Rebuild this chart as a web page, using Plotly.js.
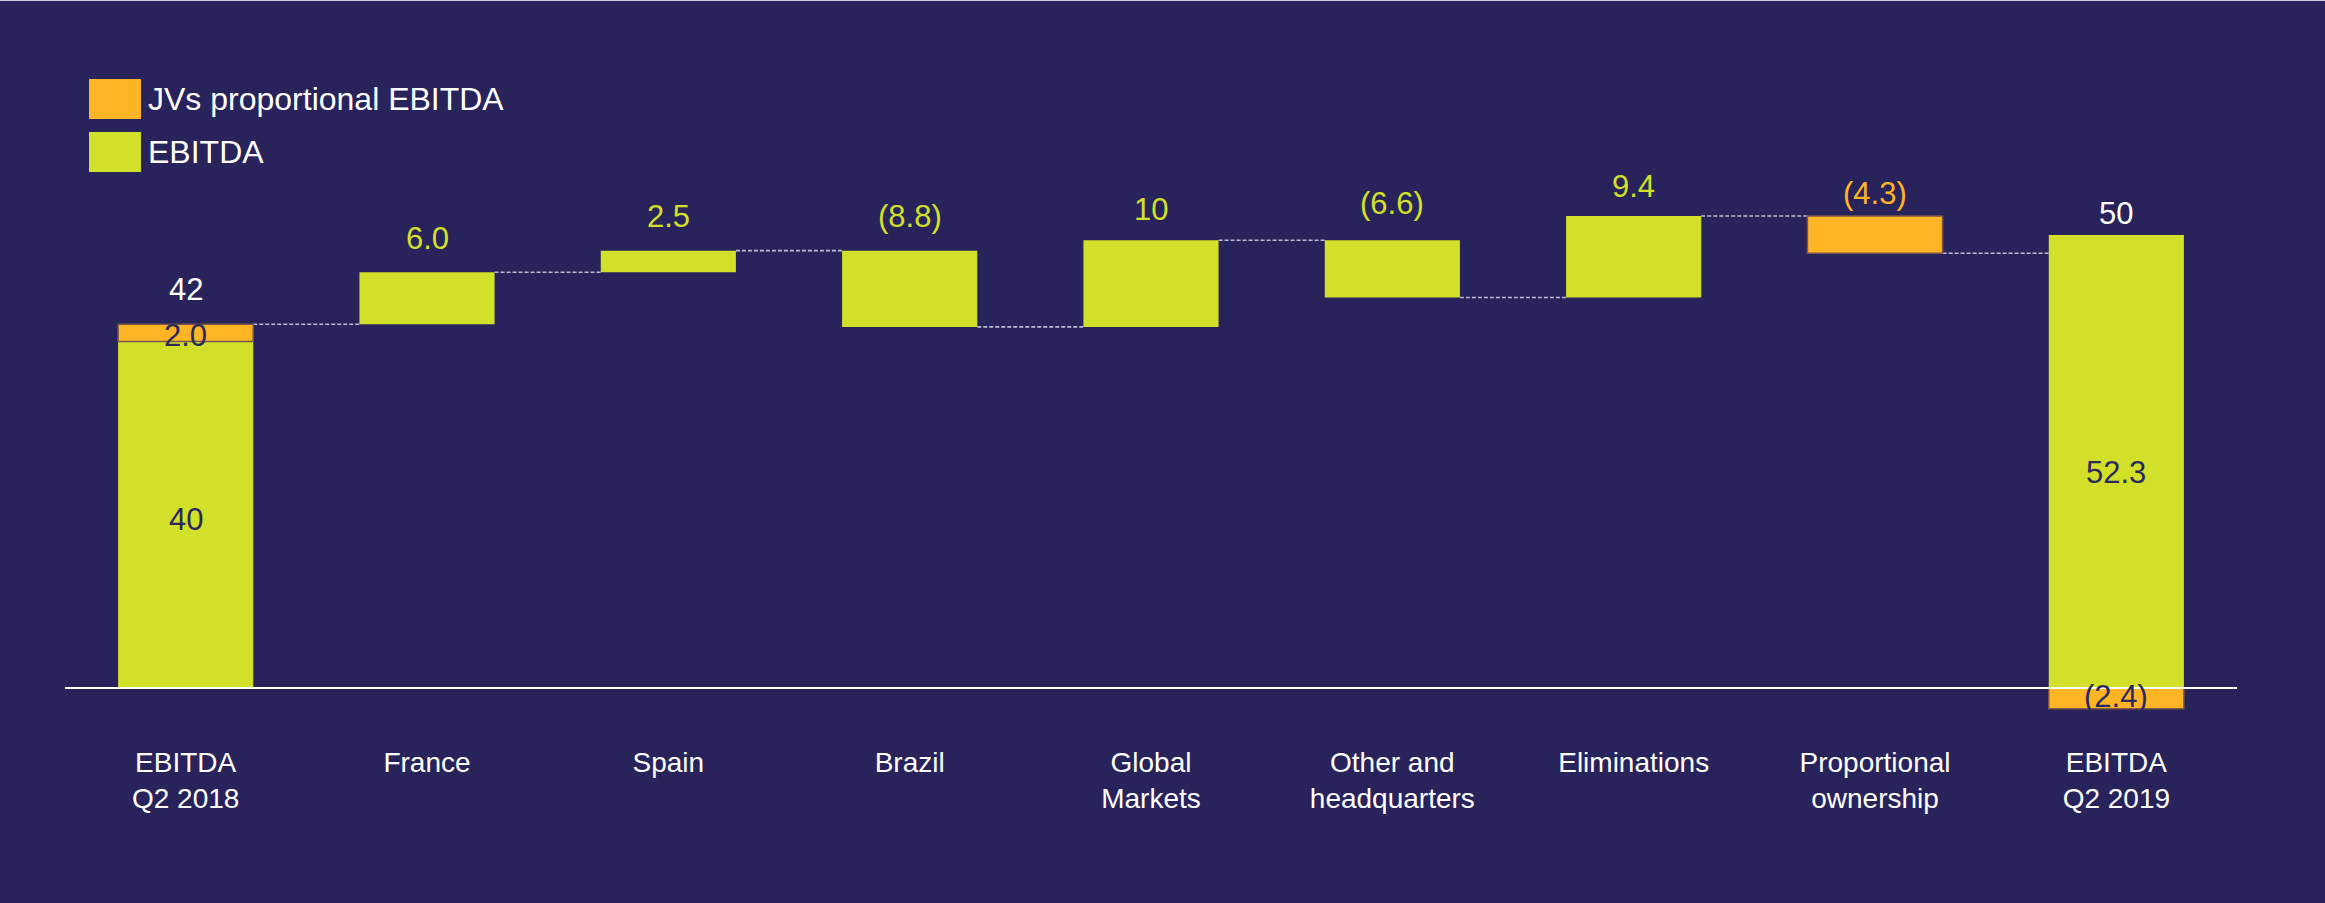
<!DOCTYPE html>
<html>
<head>
<meta charset="utf-8">
<script src="https://cdn.plot.ly/plotly-3.0.1.min.js"></script>
<style>
  html, body { margin: 0; padding: 0; background: #28235B; }
  #chart { width: 2325px; height: 903px; }
  #topline { position: absolute; left: 0; top: 0; width: 2325px; height: 1px; background: rgba(230,230,240,0.85); }
</style>
</head>
<body>
<div id="chart"></div>
<div id="topline"></div>
<script>
// ---- data ----
const categories = ["EBITDA<br>Q2 2018", "France", "Spain", "Brazil", "Global<br>Markets",
                    "Other and<br>headquarters", "Eliminations", "Proportional<br>ownership", "EBITDA<br>Q2 2019"];
const measures   = ["total", "relative", "relative", "relative", "relative", "relative", "relative", "relative", "total"];
const ebitdaVals = [40.0, 6.0, 2.5, -8.8, 10.0, -6.6, 9.4, 0, 52.3];
const jvVals     = [2.0, 0, 0, 0, 0, 0, 0, -4.3, -2.4];
const deltaLabels = ["", "6.0", "2.5", "(8.8)", "10", "(6.6)", "9.4", "(4.3)", ""];
const ebitdaLabels = ["40", "", "", "", "", "", "", "", "52.3"];
const jvLabels     = ["2.0", "", "", "", "", "", "", "", "(2.4)"];
const seriesNames = ["JVs proportional EBITDA", "EBITDA"];

// ---- style ----
const BG = "#28235B", GREEN = "#D2E02A", ORANGE = "#FDB526", NAVY = "#2B295E";
const FONT = "Liberation Sans, Arial, sans-serif";
const W = 2325, H = 903;
const M = { l: 65, r: 88, t: 60, b: 165 };
const zeroPx = 688, pxPerUnit = 8.66;
const yTop = (zeroPx - M.t) / pxPerUnit;
const yBot = -((H - M.b) - zeroPx) / pxPerUnit;
const BW = 0.56;
const labelShift = [35, 34, 34, 34, 31, 37, 30, 23, 22];
const innerShift = { ebitda: [-5, 0, 0, 0, 0, 0, 0, 0, -11], jv: [-3, 0, 0, 0, 0, 0, 0, 0, 2] };

// ---- build stacks ----
const gBase = [], gY = [], oBase = [], oY = [];
const tops = [], levels = [];
let running = 0;
for (let i = 0; i < categories.length; i++) {
  const e = ebitdaVals[i], j = jvVals[i];
  if (measures[i] === "total") {
    gBase.push(0); gY.push(e || null);
    if (j > 0) { oBase.push(e); oY.push(j); }
    else if (j < 0) { oBase.push(0); oY.push(j); }
    else { oBase.push(0); oY.push(null); }
    running = e + j;
    tops.push(Math.max(e, e + j));
  } else {
    gBase.push(running); gY.push(e !== 0 ? e : null);
    oBase.push(running); oY.push(j !== 0 ? j : null);
    const start = running;
    running = running + e + j;
    tops.push(Math.max(start, running));
  }
  levels.push(running);
}

const traces = [
  { type: "bar", name: seriesNames[1], x: categories, y: gY, base: gBase, width: BW,
    marker: { color: GREEN, line: { width: 0 } }, hoverinfo: "skip", showlegend: false },
  { type: "bar", name: seriesNames[0], x: categories, y: oY, base: oBase, width: BW,
    marker: { color: ORANGE, line: { width: 1.5, color: "#7A5648" } }, hoverinfo: "skip", showlegend: false }
];

// ---- shapes: connectors, zero line, legend swatches ----
const shapes = [];
for (let i = 0; i < categories.length - 1; i++) {
  shapes.push({ type: "line", xref: "x", yref: "y", x0: i + BW / 2, x1: i + 1 - BW / 2,
    y0: levels[i], y1: levels[i], line: { color: "#BDBAD6", width: 1.6, dash: "4px,2px" }, layer: "below" });
}
shapes.push({ type: "line", xref: "paper", yref: "y", x0: 0, x1: 1, y0: 0, y1: 0,
  line: { color: "#FFFFFF", width: 2.2 }, layer: "above" });

const plotW = W - M.l - M.r, plotH = H - M.t - M.b;
const pxX = px => (px - M.l) / plotW;
const pxY = py => (H - M.b - py) / plotH;
const legendItems = [
  { color: ORANGE, y0: 79, y1: 119, text: seriesNames[0] },
  { color: GREEN, y0: 132, y1: 172, text: seriesNames[1] }
];
const annotations = [];
legendItems.forEach(it => {
  shapes.push({ type: "rect", xref: "paper", yref: "paper", x0: pxX(89), x1: pxX(141),
    y0: pxY(it.y1), y1: pxY(it.y0), fillcolor: it.color, line: { width: 0 } });
  annotations.push({ xref: "paper", yref: "paper", x: pxX(146), y: pxY((it.y0 + it.y1) / 2),
    xanchor: "left", yanchor: "middle", text: it.text, showarrow: false,
    font: { family: FONT, size: 32, color: "#FFFFFF" } });
});

// ---- value labels ----
for (let i = 0; i < categories.length; i++) {
  if (measures[i] === "total") {
    const total = ebitdaVals[i] + jvVals[i];
    annotations.push({ x: i, y: tops[i], xref: "x", yref: "y", text: total.toFixed(0), showarrow: false,
      yanchor: "middle", yshift: labelShift[i], font: { family: FONT, size: 31, color: "#FFFFFF" } });
    if (ebitdaLabels[i]) annotations.push({ x: i, y: ebitdaVals[i] / 2, xref: "x", yref: "y", text: ebitdaLabels[i],
      showarrow: false, yanchor: "middle", yshift: innerShift.ebitda[i], font: { family: FONT, size: 31, color: NAVY } });
    if (jvLabels[i]) {
      const b = jvVals[i] > 0 ? ebitdaVals[i] : 0;
      annotations.push({ x: i, y: b + jvVals[i] / 2, xref: "x", yref: "y", text: jvLabels[i],
        showarrow: false, yanchor: "middle", yshift: innerShift.jv[i], font: { family: FONT, size: 31, color: NAVY } });
    }
  } else {
    const col = jvVals[i] !== 0 ? ORANGE : GREEN;
    annotations.push({ x: i, y: tops[i], xref: "x", yref: "y", text: deltaLabels[i], showarrow: false,
      yanchor: "middle", yshift: labelShift[i], font: { family: FONT, size: 31, color: col } });
  }
}

const layout = {
  width: W, height: H,
  paper_bgcolor: BG, plot_bgcolor: BG,
  margin: M,
  barmode: "overlay",
  showlegend: false,
  font: { family: FONT, color: "#FFFFFF" },
  xaxis: { type: "category", range: [-0.5, categories.length - 0.5], showgrid: false, zeroline: false,
    showline: false, ticks: "", ticklabelstandoff: 5,
    tickfont: { family: FONT, size: 28, color: "#FFFFFF" }, fixedrange: true },
  yaxis: { range: [yBot, yTop], showgrid: false, zeroline: false, showline: false,
    showticklabels: false, ticks: "", fixedrange: true },
  shapes: shapes,
  annotations: annotations
};

Plotly.newPlot("chart", traces, layout, { displayModeBar: false, staticPlot: true });
</script>
</body>
</html>
